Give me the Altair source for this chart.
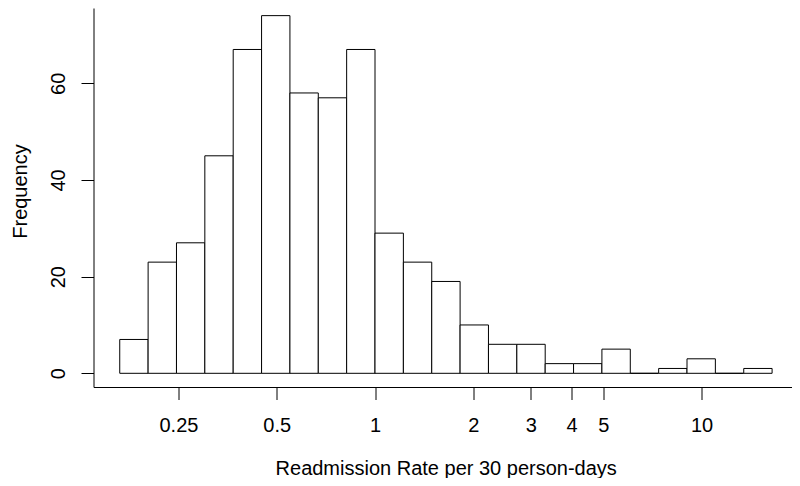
import math
import altair as alt
import pandas as pd

# Histogram of log(readmission rate); bin edges on natural-log scale
BIN_EDGES_LN = [-1.8, -1.6, -1.4, -1.2, -1.0, -0.8, -0.6, -0.4, -0.2, 0.0,
                0.2, 0.4, 0.6, 0.8, 1.0, 1.2, 1.4, 1.6, 1.8, 2.0, 2.2, 2.4, 2.6, 2.8]
COUNTS = [7, 23, 27, 45, 67, 74, 58, 57, 67, 29, 23, 19, 10, 6, 6, 2, 2, 5, 0, 1, 3, 0, 1]
X_TICKS = [0.25, 0.5, 1, 2, 3, 4, 5, 10]
Y_TICKS = [0, 20, 40, 60]

df = pd.DataFrame({
    "lo": [math.exp(v) for v in BIN_EDGES_LN[:-1]],
    "hi": [math.exp(v) for v in BIN_EDGES_LN[1:]],
    "count": COUNTS,
})

FONT = "Liberation Sans"
FS = 20

bars = alt.Chart(df).mark_rect(fill="white", stroke="black", strokeWidth=1).encode(
    x=alt.X("lo:Q",
            scale=alt.Scale(type="log", domain=[0.13737, 18.922], nice=False, zero=False),
            axis=alt.Axis(values=X_TICKS, format="~g", grid=False, tickSize=12.5,
                          labelPadding=32, labelBaseline="alphabetic", labelFlush=False,
                          labelOverlap=False,
                          title="Readmission Rate per 30 person-days",
                          titleX=352.2, titleY=87, titleAlign="center",
                          titleBaseline="alphabetic")),
    x2="hi:Q",
    y=alt.Y("count:Q",
            scale=alt.Scale(domain=[-2.835, 75.58], nice=False, zero=False),
            axis=alt.Axis(values=Y_TICKS, grid=False, tickSize=12.5, labelAngle=270,
                          labelAlign="center", labelBaseline="alphabetic",
                          labelPadding=17, labelFlush=False, labelOverlap=False,
                          title="Frequency", titleAngle=270, titleAlign="center",
                          titleBaseline="alphabetic", titleX=-67.5, titleY=183)),
    y2=alt.datum(0),
)

chart = bars.properties(
    width=698.5,
    height=379,
    autosize=alt.AutoSizeParams(type="none"),
    padding={"left": 85.5, "top": 0, "right": 0, "bottom": 91},
).configure_view(stroke=None).configure_axis(
    domainColor="black", domainWidth=1, tickColor="black", tickWidth=1,
    labelFont=FONT, labelFontSize=FS, labelColor="black",
    titleFont=FONT, titleFontSize=FS, titleColor="black", titleFontWeight="normal",
)

chart.save("out.html", embed_options={"renderer": "svg", "actions": False})
